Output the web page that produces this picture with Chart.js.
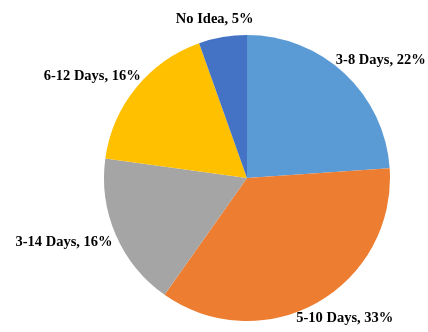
<!DOCTYPE html>
<html>
<head>
<meta charset="utf-8">
<script src="https://cdn.jsdelivr.net/npm/chart.js@4/dist/chart.umd.min.js"></script>
<style>
  html, body { margin: 0; padding: 0; background: #fff; }
  #wrap { width: 428px; height: 332px; position: relative; }
</style>
</head>
<body>
<div id="wrap"><canvas id="pie"></canvas></div>
<script>
const labels = ['3-8 Days', '5-10 Days', '3-14 Days', '6-12 Days', 'No Idea'];
const values = [22, 33, 16, 16, 5];
const colors = ['#5B9BD5', '#ED7D31', '#A5A5A5', '#FFC000', '#4472C4'];

// Outside-end labels: "Name, NN%" placed just past the rim at each slice's mid angle
const outsideLabels = {
  id: 'outsideLabels',
  afterDatasetsDraw(chart) {
    const { ctx } = chart;
    const meta = chart.getDatasetMeta(0);
    ctx.save();
    ctx.font = 'bold 14.5px "Liberation Serif", "Times New Roman", serif';
    ctx.fillStyle = '#000';
    ctx.textAlign = 'center';
    ctx.textBaseline = 'middle';
    meta.data.forEach((arc, i) => {
      const { x, y, startAngle, endAngle, outerRadius } = arc.getProps(['x', 'y', 'startAngle', 'endAngle', 'outerRadius'], true);
      const mid = (startAngle + endAngle) / 2;
      const ux = Math.cos(mid), uy = Math.sin(mid);
      const text = `${labels[i]}, ${values[i]}%`;
      const w = ctx.measureText(text).width;
      const h = 20;
      const d = outerRadius + 8;
      const cx = x + d * ux + (w / 2) * ux;
      const cy = y + d * uy + (h / 2) * uy;
      ctx.fillText(text, cx, cy);
    });
    ctx.restore();
  }
};

new Chart(document.getElementById('pie'), {
  type: 'pie',
  data: {
    labels,
    datasets: [{
      data: values,
      backgroundColor: colors,
      borderWidth: 0,
    }],
  },
  options: {
    responsive: true,
    maintainAspectRatio: false,
    animation: false,
    layout: { padding: { top: 35, bottom: 11, left: 104, right: 38 } },
    plugins: {
      legend: { display: false },
      tooltip: { enabled: false },
    },
  },
  plugins: [outsideLabels],
});
</script>
</body>
</html>
